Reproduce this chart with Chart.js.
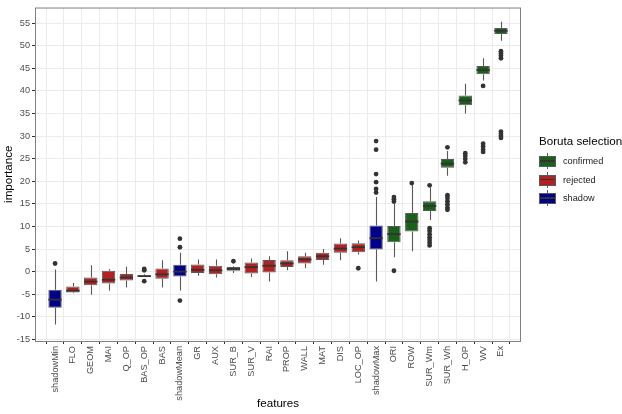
<!DOCTYPE html>
<html>
<head>
<meta charset="utf-8">
<script src="https://cdn.jsdelivr.net/npm/chart.js@4.4.0/dist/chart.umd.min.js"></script>
<style>
  html, body { margin: 0; padding: 0; background: #fff; }
  #wrap { position: relative; width: 622px; height: 414px; overflow: hidden; }
  #legend {
    position: absolute; left: 539px; top: 134px; width: 90px;
    font-family: "Liberation Sans", Arial, sans-serif; color: #000;
  }
  #legend .title { font-size: 11.6px; line-height: 14px; margin-bottom: 4px; white-space: nowrap; }
  #legend .row { display: flex; align-items: center; height: 18.5px; }
  #legend .key { position: relative; width: 17px; height: 16px; }
  #legend .key .wh { position: absolute; left: 8px; top: 0; width: 1px; height: 16px; background: #595959; }
  #legend .key .bx { position: absolute; left: 0; top: 3px; width: 15px; height: 9px; border: 1px solid #595959; }
  #legend .key .md { position: absolute; left: 1px; top: 7px; width: 15px; height: 1.5px; background: #333; }
  #legend .lab { font-size: 9.2px; color: #1a1a1a; margin-left: 7px; white-space: nowrap; }
</style>
</head>
<body>
<div id="wrap">
  <canvas id="chart" width="622" height="414"></canvas>
  <div id="legend"></div>
</div>
<script>
// Boruta feature importance, one box per feature
const features = ['shadowMin', 'FLO', 'GEOM', 'MAI', 'Q_OP', 'BAS_OP', 'BAS', 'shadowMean', 'GR', 'AUX',
    'SUR_B', 'SUR_V', 'RAI', 'PROP', 'WALL', 'MAT', 'DIS', 'LOC_OP', 'shadowMax', 'ORI',
    'ROW', 'SUR_Wm', 'SUR_Wh', 'H_OP', 'WV', 'Ex'];
const decision = ['shadow', 'rejected', 'rejected', 'rejected', 'rejected', 'rejected', 'rejected', 'shadow', 'rejected', 'rejected',
    'rejected', 'rejected', 'rejected', 'rejected', 'rejected', 'rejected', 'rejected', 'rejected', 'shadow', 'confirmed',
    'confirmed', 'confirmed', 'confirmed', 'confirmed', 'confirmed', 'confirmed'];

const whiskerLow  = [-11.7, -4.8, -5.1, -4.2, -3.5, -1.2, -3.5, -4.2, -0.9, -1.3, -0.3, -1.2, -2.2, 0.3, 0.8, 1.5, 2.5, 3.8, -2.2, 3.2, 4.5, 11.4, 21.2, 35.0, 42.3, 51.1];
const q1          = [-8.0, -4.6, -3.0, -2.6, -1.95, -1.15, -1.6, -1.1, -0.3, -0.6, 0.2, -0.4, -0.2, 1.0, 1.8, 2.6, 4.2, 4.3, 4.9, 6.5, 8.9, 13.4, 23.0, 36.8, 43.7, 52.6];
const median      = [-6.2, -4.2, -2.2, -1.8, -1.3, -1.0, -0.6, 0.0, 0.4, 0.3, 0.6, 1.0, 1.3, 1.8, 2.7, 3.4, 5.1, 5.4, 7.4, 8.3, 11.1, 14.5, 23.9, 37.9, 44.6, 53.3];
const q3          = [-4.0, -3.3, -1.3, 0.2, -0.5, -0.8, 0.7, 1.5, 1.6, 1.3, 1.0, 2.0, 2.6, 2.5, 3.4, 4.2, 6.2, 6.3, 10.2, 10.1, 13.0, 15.6, 24.9, 39.0, 45.5, 53.9];
const whiskerHigh = [0.5, -2.5, 1.4, 0.6, 1.1, -0.6, 2.5, 4.2, 2.7, 2.7, 1.2, 2.9, 3.4, 4.5, 4.2, 5.0, 7.4, 6.9, 16.5, 15.0, 19.2, 18.7, 26.7, 41.6, 47.2, 55.3];
const outliers = [
    [1.8], [], [], [], [], [0.3, 0.6, -2.1], [], [5.4, 7.3, -6.4], [], [],
    [2.3], [], [], [], [], [], [], [0.75], [17.5, 18.3, 19.8, 21.6, 27.0, 28.9], [15.5, 16.0, 16.5, 0.2],
    [19.6], [19.1, 9.6, 9.0, 8.3, 7.6, 7.0, 6.4, 5.8], [27.5, 16.9, 16.3, 15.6, 14.9, 14.2, 13.7],
    [26.2, 25.6, 24.9, 24.2], [41.1, 28.3, 27.7, 27.0, 26.5], [48.8, 48.3, 47.8, 47.2, 31.0, 30.5, 30.0, 29.6]
];
const groups = ['confirmed', 'rejected', 'shadow'];

const fills = { confirmed: '#1a5f1a', rejected: '#b22222', shadow: '#00008b' };
const lineGrey = '#595959';
const fontFamily = '"Liberation Sans", Arial, sans-serif';

const boxData = features.map((f, i) => ({ x: i, y: [q1[i], q3[i]] }));
const outlierData = [];
outliers.forEach((vals, i) => vals.forEach(v => outlierData.push({ x: i, y: v })));

// whiskers behind the boxes, medians on top of them, panel border last
const boxParts = {
    id: 'boxParts',
    beforeDatasetDraw(chart, args) {
        if (args.index !== 0) return;
        const { ctx, scales: { x, y } } = chart;
        ctx.save();
        ctx.strokeStyle = lineGrey;
        ctx.lineWidth = 1.1;
        features.forEach((f, i) => {
            const px = Math.round(x.getPixelForValue(i)) + 0.5;
            ctx.beginPath();
            ctx.moveTo(px, y.getPixelForValue(whiskerLow[i]));
            ctx.lineTo(px, y.getPixelForValue(q1[i]));
            ctx.moveTo(px, y.getPixelForValue(q3[i]));
            ctx.lineTo(px, y.getPixelForValue(whiskerHigh[i]));
            ctx.stroke();
        });
        ctx.restore();
    },
    afterDatasetDraw(chart, args) {
        if (args.index !== 0) return;
        const { ctx, scales: { y } } = chart;
        const meta = chart.getDatasetMeta(0);
        ctx.save();
        ctx.strokeStyle = '#333';
        ctx.lineWidth = 1.8;
        meta.data.forEach((bar, i) => {
            const py = y.getPixelForValue(median[i]);
            ctx.beginPath();
            ctx.moveTo(bar.x - bar.width / 2, py);
            ctx.lineTo(bar.x + bar.width / 2, py);
            ctx.stroke();
        });
        ctx.restore();
    },
    afterDraw(chart) {
        const { ctx, chartArea: a } = chart;
        ctx.save();
        ctx.strokeStyle = '#808080';
        ctx.lineWidth = 1;
        ctx.strokeRect(a.left + 0.5, a.top + 0.5, a.right - a.left - 1, a.bottom - a.top);
        ctx.restore();
    }
};

const isMajor = c => c.tick && Math.abs(c.tick.value % 5) < 1e-9;

new Chart(document.getElementById('chart'), {
    type: 'bar',
    data: {
        datasets: [
            {
                label: 'boxes',
                data: boxData,
                backgroundColor: features.map((f, i) => fills[decision[i]]),
                borderColor: lineGrey,
                borderWidth: 1,
                borderSkipped: false,
                barPercentage: 0.75,
                categoryPercentage: 1
            },
            {
                type: 'scatter',
                label: 'outliers',
                data: outlierData,
                showLine: false,
                pointRadius: 2.4,
                pointBackgroundColor: '#333',
                pointBorderWidth: 0
            }
        ]
    },
    options: {
        responsive: false,
        animation: false,
        events: [],
        layout: { padding: { top: 2, right: 101, bottom: 0, left: 0 } },
        plugins: { legend: { display: false }, tooltip: { enabled: false } },
        scales: {
            x: {
                type: 'linear',
                min: -0.6,
                max: features.length - 0.4,
                afterFit: s => { s.height = 73; },
                ticks: {
                    stepSize: 1,
                    includeBounds: false,
                    autoSkip: false,
                    maxRotation: 90,
                    minRotation: 90,
                    padding: 2,
                    color: '#4d4d4d',
                    font: { family: fontFamily, size: 9.2 },
                    callback: v => features[v]
                },
                grid: { color: '#ebebeb', tickColor: '#333', tickLength: 3 },
                border: { display: false },
                title: {
                    display: true, text: 'features', color: '#000',
                    font: { family: fontFamily, size: 11.6 },
                    padding: { top: 0, bottom: 3 }
                }
            },
            y: {
                min: -15.35,
                max: 58.45,
                afterFit: s => { s.width = 35; },
                ticks: {
                    stepSize: 2.5,
                    includeBounds: false,
                    padding: 2,
                    color: '#4d4d4d',
                    font: { family: fontFamily, size: 9.2 },
                    callback: v => (Math.abs(v % 5) < 1e-9 ? v : '')
                },
                grid: {
                    color: c => (isMajor(c) ? '#ebebeb' : '#f5f5f5'),
                    lineWidth: c => (isMajor(c) ? 1 : 0.7),
                    tickColor: c => (isMajor(c) ? '#333' : 'rgba(0,0,0,0)'),
                    tickLength: 3
                },
                border: { display: false },
                title: {
                    display: true, text: 'importance', color: '#000',
                    font: { family: fontFamily, size: 11.6 },
                    padding: { top: 2, bottom: 0 }
                }
            }
        }
    },
    plugins: [boxParts]
});

// legend, same look as the ggplot guide
const legend = document.getElementById('legend');
legend.innerHTML = '<div class="title">Boruta selection</div>' + groups.map(g => `
    <div class="row">
        <div class="key"><div class="wh"></div><div class="bx" style="background:${fills[g]}"></div><div class="md"></div></div>
        <span class="lab">${g}</span>
    </div>`).join('');
</script>
</body>
</html>
